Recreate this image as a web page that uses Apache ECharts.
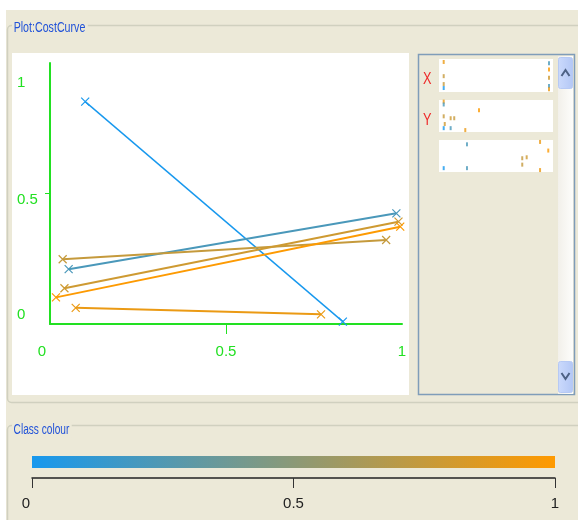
<!DOCTYPE html>
<html>
<head>
<meta charset="utf-8">
<script src="https://cdn.jsdelivr.net/npm/echarts@6/dist/echarts.min.js"></script>
<style>
  html, body { margin: 0; padding: 0; background: #ffffff; }
  #chart { width: 578px; height: 520px; }
</style>
</head>
<body>
<div id="chart"></div>
<script>
// ---- data -------------------------------------------------------------
// Cost curves: one straight segment per curve, coloured by its class value
const curveClass = [0, 0.22, 0.75, 0.79, 0.993, 0.915];
const curveStart = [[0.100, 0.852], [0.053, 0.210], [0.036, 0.248], [0.041, 0.137], [0.017, 0.102], [0.073, 0.062]];
const curveEnd   = [[0.832, 0.009], [0.984, 0.424], [0.955, 0.322], [0.990, 0.392], [0.995, 0.373], [0.770, 0.037]];

// Axis ticks of the cost-curve plot and of the class colour scale
const plotTicks = [0, 0.5, 1];
const colourTicks = [0, 0.5, 1];

// Class colour scale end colours
const classColourLow = '#1798ee';
const classColourHigh = '#ff9a00';

// Attribute strips: [attribute value, jitter row, class value]
const stripX = [
  [0, 0.09, 0.915], [1, 0.13, 0.22], [1, 0.32, 0.993], [0, 0.52, 0.75], [1, 0.57, 0.79],
  [0, 0.76, 0.75], [0, 0.88, 0], [1, 0.82, 0.22], [1, 0.92, 0.915]
];
const stripY = [
  [0, 0.05, 0.915], [0, 0.14, 0.22], [0.335, 0.32, 0.993], [0, 0.51, 0.75], [0.066, 0.57, 0.79],
  [0.10, 0.57, 0.75], [0.01, 0.75, 0.79], [0, 0.88, 0], [0.066, 0.88, 0.22], [0.205, 0.94, 0.915]
];
const stripClass = [
  [0.221, 0.135, 0.221], [0.915, 0.06, 0.915], [0.993, 0.33, 0.993], [0.746, 0.57, 0.746],
  [0.788, 0.54, 0.788], [0.746, 0.77, 0.746], [0, 0.88, 0], [0.221, 0.88, 0.221], [0.915, 0.94, 0.915]
];

// ---- helpers ----------------------------------------------------------
function hexRgb(h) {
  return [parseInt(h.slice(1, 3), 16), parseInt(h.slice(3, 5), 16), parseInt(h.slice(5, 7), 16)];
}
function classColour(t) {
  const a = hexRgb(classColourLow), b = hexRgb(classColourHigh);
  const c = a.map((v, i) => Math.round(v + (b[i] - v) * t));
  return 'rgb(' + c.join(',') + ')';
}

const BEIGE = '#ece9d8';
const GREEN = '#22e022';
const GROUP_LINE = '#d0d0bf';
const TITLE_BLUE = '#2152d8';
const NARROW = '"Liberation Sans Narrow", "Liberation Sans", sans-serif';
const CROSS = 'path://M0,0L10,10M10,0L0,10';

const chart = echarts.init(document.getElementById('chart'), null, { renderer: 'canvas' });

// ---- series -----------------------------------------------------------
const series = [];
curveClass.forEach((c, i) => {
  const col = classColour(c);
  series.push({
    type: 'line',
    xAxisIndex: 0, yAxisIndex: 0,
    data: [curveStart[i], curveEnd[i]],
    symbol: CROSS,
    symbolSize: 8,
    showSymbol: true,
    lineStyle: { color: col, width: c === 0 ? 1.4 : 2 },
    itemStyle: { color: 'rgba(0,0,0,0)', borderColor: col, borderWidth: 1.2 },
    silent: true,
    animation: false,
    z: 3
  });
});

[stripX, stripY, stripClass].forEach((strip, k) => {
  series.push({
    type: 'scatter',
    xAxisIndex: k + 1, yAxisIndex: k + 1,
    data: strip.map(d => ({ value: [d[0], d[1]], itemStyle: { color: classColour(d[2]) } })),
    symbol: 'rect',
    symbolSize: [2, 4],
    silent: true,
    animation: false
  });
});

// Class colour bar drawn across the 0..1 range of its axis
series.push({
  type: 'custom',
  xAxisIndex: 4, yAxisIndex: 4,
  data: [[0, 1]],
  silent: true,
  animation: false,
  renderItem: function (params, api) {
    const s = api.coord([0, 1]);
    const e = api.coord([1, 1]);
    return {
      type: 'rect',
      shape: { x: s[0], y: params.coordSys.y, width: e[0] - s[0], height: 12 },
      style: {
        fill: new echarts.graphic.LinearGradient(0, 0, 1, 0, [
          { offset: 0, color: classColourLow },
          { offset: 1, color: classColourHigh }
        ])
      }
    };
  }
});

// ---- axes ---------------------------------------------------------------
const hidden = { show: false };
const stripAxisX = i => ({ gridIndex: i, type: 'value', min: 0, max: 1, show: false });
const stripAxisY = i => ({ gridIndex: i, type: 'value', min: 0, max: 1, inverse: true, show: false });

const option = {
  animation: false,
  backgroundColor: '#ffffff',
  grid: [
    { left: 50, top: 63, width: 352, height: 261 },
    { left: 443.7, top: 59, width: 105.3, height: 33 },
    { left: 443.7, top: 100, width: 105.3, height: 32 },
    { left: 443.7, top: 140, width: 105.3, height: 32 },
    { left: 32, top: 456, width: 523, height: 22 }
  ],
  xAxis: [
    {
      gridIndex: 0, type: 'value', min: plotTicks[0], max: plotTicks[2], interval: 0.5,
      axisLine: { show: true, lineStyle: { color: GREEN, width: 2 } },
      axisTick: { show: true, customValues: [plotTicks[1]], length: 10, lineStyle: { color: GREEN, width: 1 } },
      axisLabel: {
        color: GREEN, fontFamily: NARROW, fontSize: 15, margin: 20,
        formatter: v => v === 0 ? '{l|0}' : String(v),
        rich: { l: { color: GREEN, fontFamily: NARROW, fontSize: 15, padding: [0, 16, 0, 0] } }
      },
      splitLine: hidden
    },
    stripAxisX(1), stripAxisX(2), stripAxisX(3),
    {
      gridIndex: 4, type: 'value', min: colourTicks[0], max: colourTicks[2], interval: 0.5,
      axisLine: { show: true, lineStyle: { color: '#222', width: 1.5 } },
      axisTick: { show: true, length: 10, lineStyle: { color: '#333', width: 1 } },
      axisLabel: {
        color: '#222', fontFamily: NARROW, fontSize: 15, margin: 18,
        formatter: v => v === 0 ? '{l|0}' : String(v),
        rich: { l: { color: '#222', fontFamily: NARROW, fontSize: 15, padding: [0, 12, 0, 0] } }
      },
      splitLine: hidden
    }
  ],
  yAxis: [
    {
      gridIndex: 0, type: 'value', min: plotTicks[0], max: plotTicks[2], interval: 0.5,
      axisLine: { show: true, lineStyle: { color: GREEN, width: 2 } },
      axisTick: { show: true, customValues: [plotTicks[1]], length: 5, lineStyle: { color: GREEN, width: 1 } },
      axisLabel: {
        color: GREEN, fontFamily: NARROW, fontSize: 15, margin: 33, align: 'left',
        formatter: v => v === 1 ? '{a|1}' : v === 0 ? '{b|0}' : '{c|0.5}',
        rich: {
          a: { color: GREEN, fontFamily: NARROW, fontSize: 15, padding: [40, 0, 0, 0] },
          b: { color: GREEN, fontFamily: NARROW, fontSize: 15, padding: [0, 0, 18, 0] },
          c: { color: GREEN, fontFamily: NARROW, fontSize: 15, padding: [13, 0, 0, 0] }
        }
      },
      splitLine: hidden
    },
    stripAxisY(1), stripAxisY(2), stripAxisY(3),
    { gridIndex: 4, type: 'value', min: 0, max: 1, show: false }
  ],
  series: series,
  graphic: [
    // window background
    { type: 'rect', z: -10, shape: { x: 6, y: 10, width: 580, height: 520 }, style: { fill: BEIGE } },
    // "Plot:CostCurve" group box
    { type: 'rect', z: -9, shape: { x: 7.5, y: 25.5, width: 640, height: 377, r: 4 }, style: { fill: BEIGE, stroke: GROUP_LINE, lineWidth: 1.5 } },
    { type: 'text', z: -8, x: 12, y: 28, scaleX: 0.82, scaleY: 1.1, style: { text: 'Plot:CostCurve', fill: TITLE_BLUE, font: '13px ' + NARROW, verticalAlign: 'middle', backgroundColor: BEIGE, padding: [0, 3, 0, 2] } },
    // white plot canvas
    { type: 'rect', z: -8, shape: { x: 12, y: 53, width: 397, height: 342 }, style: { fill: '#ffffff' } },
    // attribute panel
    { type: 'rect', z: -8, shape: { x: 418.5, y: 54.5, width: 156, height: 340 }, style: { fill: BEIGE, stroke: '#7f9db9', lineWidth: 1.5 } },
    { type: 'rect', z: -7, shape: { x: 439, y: 59, width: 114, height: 33 }, style: { fill: '#ffffff' } },
    { type: 'rect', z: -7, shape: { x: 439, y: 100, width: 114, height: 32 }, style: { fill: '#ffffff' } },
    { type: 'rect', z: -7, shape: { x: 439, y: 140, width: 114, height: 32 }, style: { fill: '#ffffff' } },
    { type: 'text', z: -7, x: 423, y: 79, scaleX: 0.85, scaleY: 1.15, style: { text: 'X', fill: '#ee2a2a', font: '15px ' + NARROW, verticalAlign: 'middle' } },
    { type: 'text', z: -7, x: 423, y: 120, scaleX: 0.85, scaleY: 1.15, style: { text: 'Y', fill: '#ee2a2a', font: '15px ' + NARROW, verticalAlign: 'middle' } },
    // scrollbar
    { type: 'rect', z: -7, shape: { x: 558, y: 56, width: 15, height: 338 },
      style: { fill: new echarts.graphic.LinearGradient(0, 0, 1, 0, [{ offset: 0, color: '#f2f0ea' }, { offset: 1, color: '#fdfdfb' }]) } },
    { type: 'rect', z: -6, shape: { x: 558.5, y: 57.5, width: 14, height: 31, r: 2 },
      style: { fill: new echarts.graphic.LinearGradient(0, 0, 1, 0, [{ offset: 0, color: '#cbdafc' }, { offset: 1, color: '#b3c7f5' }]), stroke: '#b6c9f4', lineWidth: 1 } },
    { type: 'polyline', z: -5, shape: { points: [[561.5, 76], [565.5, 70], [569.5, 76]] }, style: { stroke: '#4d6185', lineWidth: 2, fill: null } },
    { type: 'rect', z: -6, shape: { x: 558.5, y: 361.5, width: 14, height: 31, r: 2 },
      style: { fill: new echarts.graphic.LinearGradient(0, 0, 1, 0, [{ offset: 0, color: '#cbdafc' }, { offset: 1, color: '#b3c7f5' }]), stroke: '#b6c9f4', lineWidth: 1 } },
    { type: 'polyline', z: -5, shape: { points: [[561.5, 373], [565.5, 379], [569.5, 373]] }, style: { stroke: '#4d6185', lineWidth: 2, fill: null } },
    // "Class colour" group box
    { type: 'rect', z: -9, shape: { x: 7.5, y: 425.5, width: 640, height: 200, r: 4 }, style: { fill: BEIGE, stroke: GROUP_LINE, lineWidth: 1.5 } },
    { type: 'text', z: -8, x: 12, y: 430, scaleX: 0.78, scaleY: 1.1, style: { text: 'Class colour', fill: TITLE_BLUE, font: '13px ' + NARROW, verticalAlign: 'middle', backgroundColor: BEIGE, padding: [0, 3, 0, 2] } }
  ]
};

chart.setOption(option);
</script>
</body>
</html>
